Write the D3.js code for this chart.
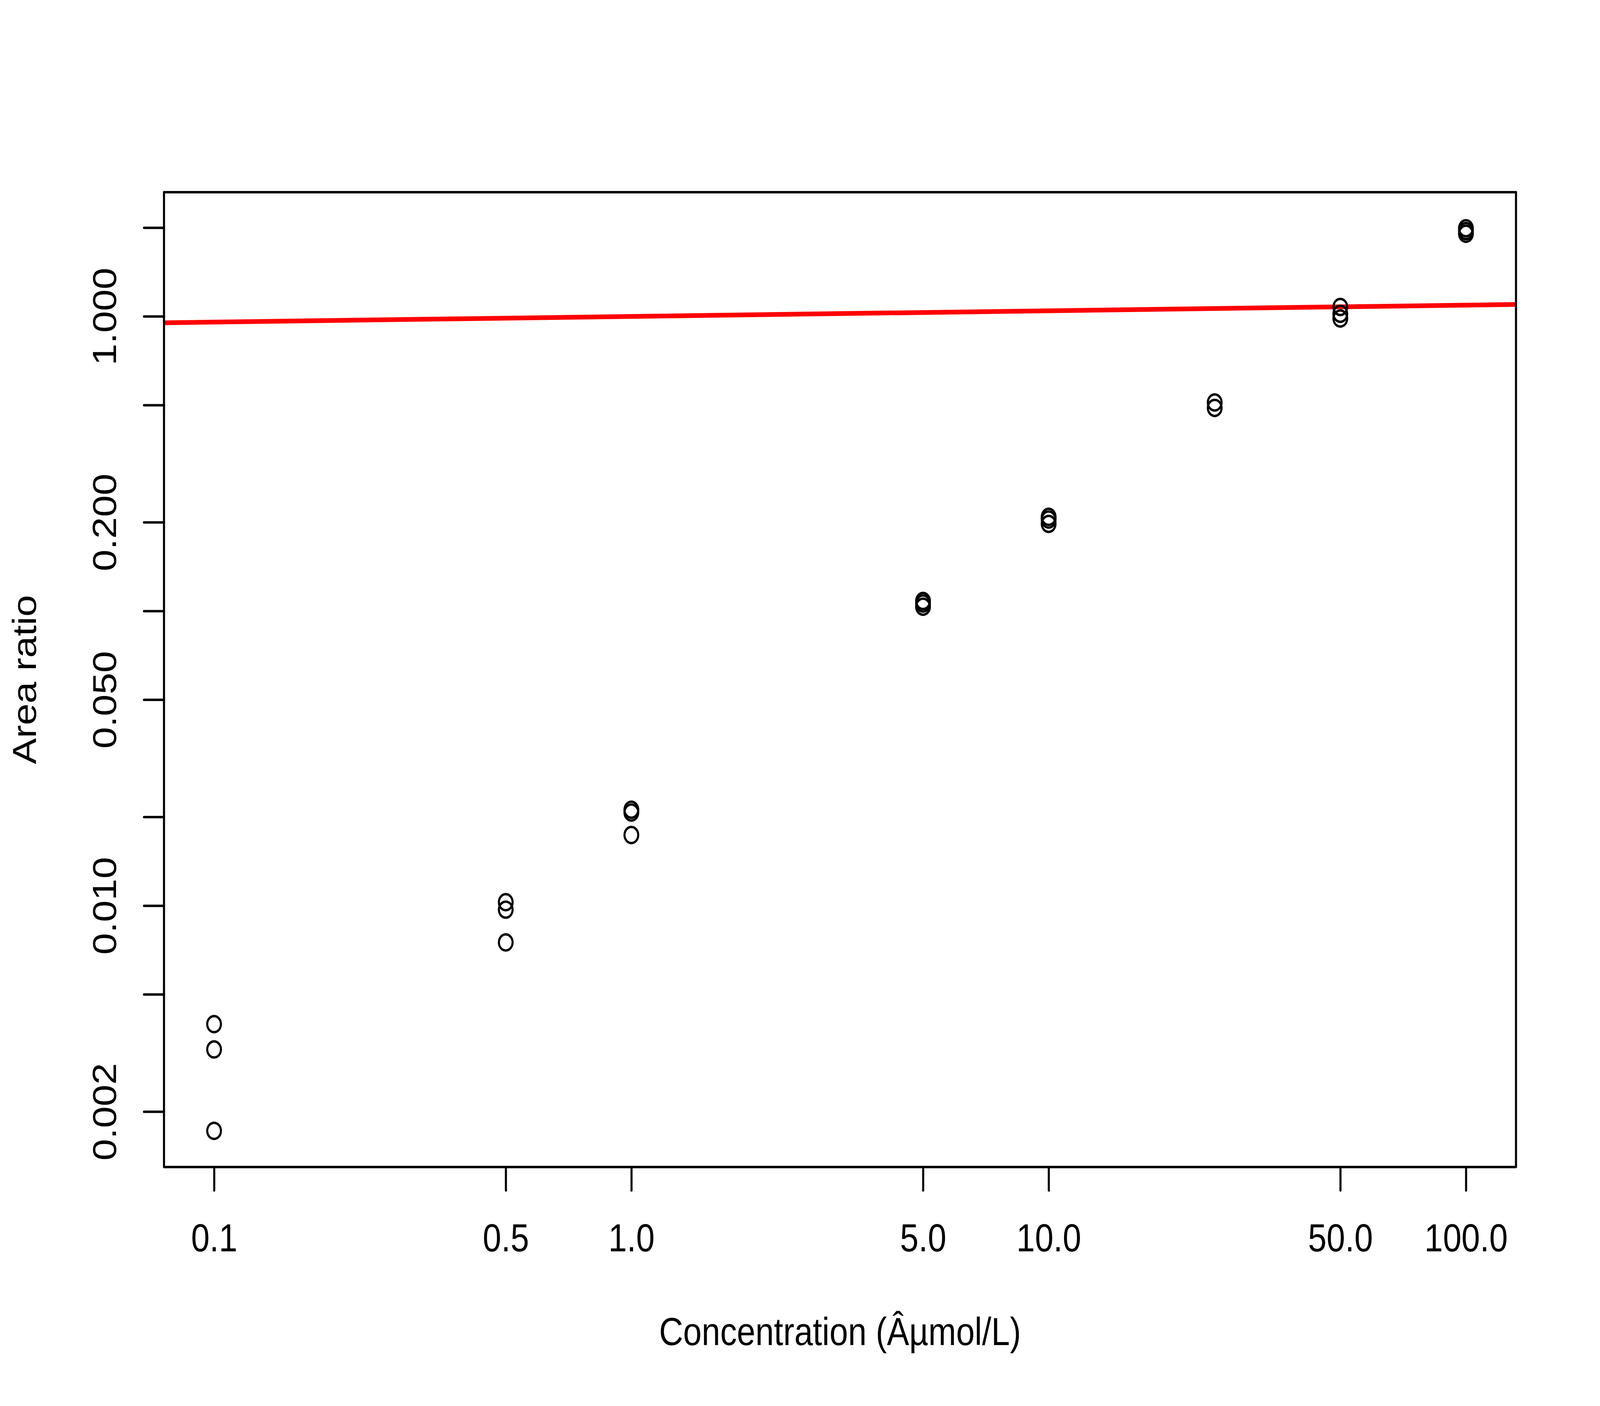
<!DOCTYPE html>
<html>
<head>
<meta charset="utf-8">
<script src="https://cdn.jsdelivr.net/npm/d3@7"></script>
<style>
  html, body { margin: 0; padding: 0; background: #ffffff; width: 100%; height: 100%; overflow: hidden; }
  svg { display: block; width: 100vw; height: 100vh; }
  text { font-family: "Liberation Sans", Arial, Helvetica, sans-serif; }
</style>
</head>
<body>
<svg id="chart" viewBox="0 0 4800 3600" preserveAspectRatio="none"></svg>
<script>
// ---- data ----
const concentrations = [0.1, 0.1, 0.1,
                        0.5, 0.5, 0.5,
                        1, 1, 1,
                        5, 5, 5,
                        10, 10, 10,
                        25, 25,
                        50, 50, 50,
                        100, 100, 100];
const areaRatios = [0.00396, 0.00325, 0.00172,
                    0.01027, 0.00969, 0.00750,
                    0.02116, 0.02070, 0.01736,
                    0.1081, 0.1060, 0.1034,
                    0.2087, 0.2043, 0.1975,
                    0.510, 0.4888,
                    1.076, 1.020, 0.983,
                    1.990, 1.947, 1.906];
// fitted line as drawn (log10 y = a + b * log10 x)
const fitIntercept = -0.0004;
const fitSlope = 0.0192;

const xTickValues = [0.1, 0.5, 1, 5, 10, 50, 100];
const xTickLabels = ["0.1", "0.5", "1.0", "5.0", "10.0", "50.0", "100.0"];
const yTickValues = [0.002, 0.005, 0.01, 0.02, 0.05, 0.1, 0.2, 0.5, 1, 2];
const yTickLabels = ["0.002", "", "0.010", "", "0.050", "", "0.200", "", "1.000", ""];

const xTitle = "Concentration (\u00C2\u00B5mol/L)";
const yTitle = "Area ratio";

// ---- layout ----
const W = 4800, H = 3600;
const lineH = 120;
const margin = { top: 4.1 * lineH, right: 2.1 * lineH, bottom: 5.1 * lineH, left: 4.1 * lineH };
const pw = W - margin.left - margin.right;
const ph = H - margin.top - margin.bottom;
const lwd = 6.25;
const fontPx = 100;

function rDomain(vals) {
  const lo = Math.log10(d3.min(vals)), hi = Math.log10(d3.max(vals));
  const pad = 0.04 * (hi - lo);
  return [Math.pow(10, lo - pad), Math.pow(10, hi + pad)];
}

const x = d3.scaleLog().domain(rDomain(concentrations)).range([0, pw]);
const y = d3.scaleLog().domain(rDomain(areaRatios)).range([ph, 0]);

const svg = d3.select("#chart");
svg.append("rect").attr("width", W).attr("height", H).attr("fill", "#ffffff");

const g = svg.append("g").attr("transform", `translate(${margin.left},${margin.top})`);

svg.append("defs").append("clipPath").attr("id", "plotclip")
  .append("rect").attr("x", 0).attr("y", 0).attr("width", pw).attr("height", ph);

// fitted line
const [x0, x1] = x.domain();
const lineData = [x0, x1].map(v => ({ cx: v, cy: Math.pow(10, fitIntercept + fitSlope * Math.log10(v)) }));
g.append("g").attr("clip-path", "url(#plotclip)")
  .append("path")
  .datum(lineData)
  .attr("d", d3.line().x(d => x(d.cx)).y(d => y(d.cy)))
  .attr("fill", "none")
  .attr("stroke", "#ff0000")
  .attr("stroke-width", 12);

// points
g.append("g").selectAll("circle")
  .data(concentrations.map((c, i) => ({ c, r: areaRatios[i] })))
  .join("circle")
  .attr("cx", d => x(d.c))
  .attr("cy", d => y(d.r))
  .attr("r", 20.6)
  .attr("fill", "none")
  .attr("stroke", "#000000")
  .attr("stroke-width", lwd);

// x axis
const xAxis = g.append("g")
  .attr("transform", `translate(0,${ph})`)
  .call(d3.axisBottom(x).tickValues(xTickValues)
    .tickFormat((d, i) => xTickLabels[i]).tickSize(0.5 * lineH).tickSizeOuter(0));
xAxis.select(".domain").remove();
xAxis.selectAll(".tick line").attr("stroke", "#000").attr("stroke-width", lwd).attr("stroke-linecap", "round");
xAxis.selectAll(".tick text")
  .attr("y", 1.8 * lineH).attr("dy", null)
  .attr("font-size", fontPx).attr("fill", "#000")
  .attr("font-family", "'Liberation Sans', Arial, sans-serif");

// y axis
const yAxis = g.append("g")
  .call(d3.axisLeft(y).tickValues(yTickValues)
    .tickFormat((d, i) => yTickLabels[i]).tickSize(0.5 * lineH).tickSizeOuter(0));
yAxis.select(".domain").remove();
yAxis.selectAll(".tick line").attr("stroke", "#000").attr("stroke-width", lwd).attr("stroke-linecap", "round");
yAxis.selectAll(".tick text")
  .attr("x", null).attr("y", null).attr("dy", null)
  .attr("text-anchor", "middle")
  .attr("transform", `translate(${-1.2 * lineH},0) rotate(-90)`)
  .attr("font-size", fontPx).attr("fill", "#000")
  .attr("font-family", "'Liberation Sans', Arial, sans-serif");

// box
g.append("rect")
  .attr("x", 0).attr("y", 0).attr("width", pw).attr("height", ph)
  .attr("fill", "none").attr("stroke", "#000").attr("stroke-width", lwd)
  .attr("stroke-linejoin", "round");

// titles
svg.append("text")
  .attr("x", margin.left + pw / 2)
  .attr("y", margin.top + ph + 3.8 * lineH)
  .attr("text-anchor", "middle")
  .attr("font-size", fontPx)
  .attr("fill", "#000")
  .text(xTitle);

svg.append("text")
  .attr("transform", `translate(${margin.left - 3.2 * lineH},${margin.top + ph / 2}) rotate(-90)`)
  .attr("text-anchor", "middle")
  .attr("font-size", fontPx)
  .attr("fill", "#000")
  .text(yTitle);
</script>
</body>
</html>
